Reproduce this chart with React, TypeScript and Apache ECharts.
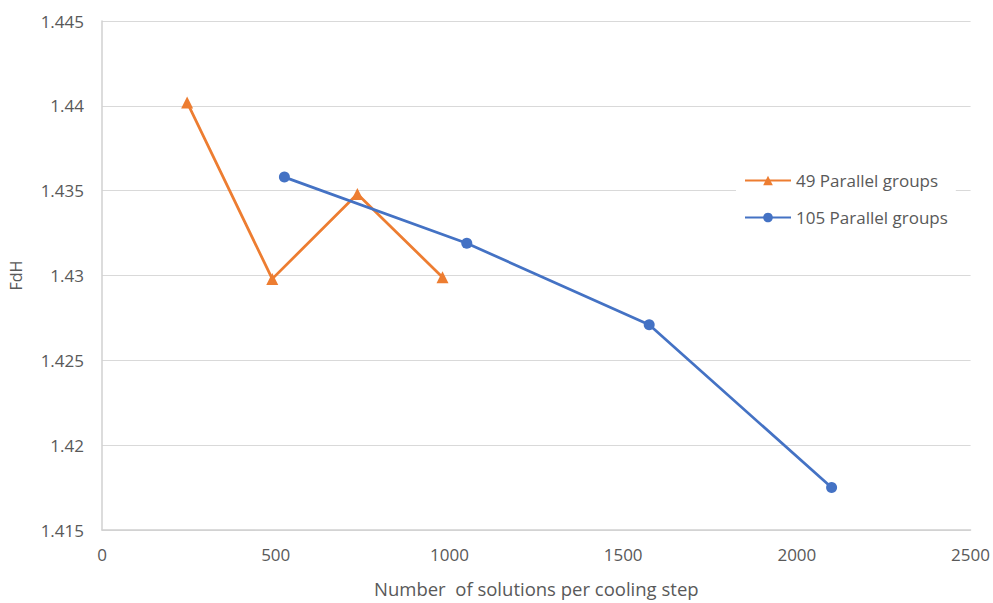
import React, { useEffect, useRef } from "react";
import * as echarts from "echarts";

const seriesNames = ["49 Parallel groups", "105 Parallel groups"];
const xOrange = [245, 490, 735, 980];
const yOrange = [1.4402, 1.4298, 1.4348, 1.4299];
const xBlue = [525, 1050, 1575, 2100];
const yBlue = [1.4358, 1.4319, 1.4271, 1.4175];
const xAxisName = "Number  of solutions per cooling step";
const yAxisName = "FdH";

export default function App() {
  const ref = useRef<HTMLDivElement>(null);
  useEffect(() => {
    document.body.style.margin = "0";
    document.body.style.overflow = "hidden";
    if (!ref.current) return;
    const chart = echarts.init(ref.current, null, { renderer: "svg" });
    const font = "'Open Sans', 'Liberation Sans', sans-serif";
    chart.setOption({
      animation: false,
      backgroundColor: "#ffffff",
      textStyle: { fontFamily: font },
      grid: { left: 102, right: 21, top: 21, bottom: 69 },
      legend: {
        orient: "vertical",
        left: 736,
        top: 166,
        itemWidth: 46,
        itemHeight: 12,
        itemGap: 20,
        padding: [6, 8, 6, 8],
        backgroundColor: "#ffffff",
        textStyle: { color: "#595959", fontSize: 17, fontFamily: font },
        data: seriesNames,
      },
      xAxis: {
        type: "value",
        min: 0,
        max: 2500,
        interval: 500,
        name: xAxisName,
        nameLocation: "middle",
        nameGap: 49,
        nameTextStyle: { color: "#595959", fontSize: 18.5, fontFamily: font },
        axisLine: { show: true, lineStyle: { color: "#d0d0d0", width: 1.5 } },
        axisTick: { show: false },
        axisLabel: { color: "#595959", fontSize: 17, margin: 16, formatter: (v: number) => String(v) },
        splitLine: { show: false },
      },
      yAxis: {
        type: "value",
        min: 1.415,
        max: 1.445,
        interval: 0.005,
        name: yAxisName,
        nameLocation: "middle",
        nameGap: 78,
        nameTextStyle: { color: "#595959", fontSize: 16, fontFamily: font },
        axisLine: { show: true, lineStyle: { color: "#d0d0d0", width: 1.5 } },
        axisTick: { show: false },
        axisLabel: { color: "#595959", fontSize: 17, margin: 18 },
        splitLine: { show: true, lineStyle: { color: "#d9d9d9", width: 1.2 } },
      },
      series: [
        {
          name: seriesNames[0],
          type: "line",
          data: xOrange.map((x, i) => [x, yOrange[i]]),
          symbol: "triangle",
          symbolSize: 12,
          lineStyle: { color: "#ED7D31", width: 2.75 },
          itemStyle: { color: "#ED7D31" },
        },
        {
          name: seriesNames[1],
          type: "line",
          data: xBlue.map((x, i) => [x, yBlue[i]]),
          symbol: "circle",
          symbolSize: 11,
          lineStyle: { color: "#4472C4", width: 2.75 },
          itemStyle: { color: "#4472C4" },
        },
      ],
    });
    return () => chart.dispose();
  }, []);
  return (
    <div
      ref={ref}
      style={{ position: "fixed", left: 0, top: 0, width: 993, height: 603 }}
    />
  );
}
